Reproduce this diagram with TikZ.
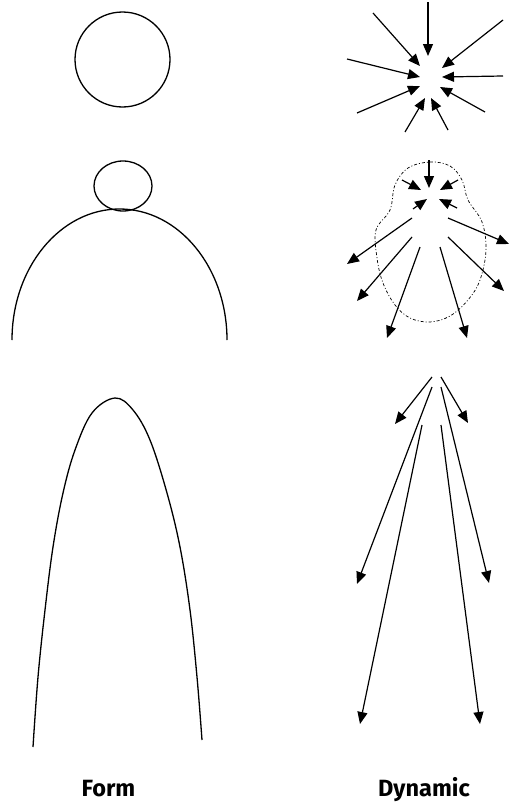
\documentclass[tikz,border=0pt]{standalone}
\usepackage{fontspec}
\setmainfont{Fira Sans}
\usetikzlibrary{arrows.meta}
\begin{document}
\begin{tikzpicture}[x=1pt,y=-1pt,
  shape line/.style={line width=1.3pt, black},
  force/.style={line width=1.2pt, -{Triangle[length=12pt,width=10pt]}},
  field/.style={line width=0.7pt, dash pattern=on 3pt off 2pt on 1pt off 2pt},
  caption/.style={font=\fontsize{23.5}{26}\selectfont\bfseries, anchor=base}]
\useasboundingbox (0,0) rectangle (510,803);

% ---------- Form column ----------
\draw[shape line] (122.5,59.5) circle[radius=47.5];
\draw[shape line] (123,186) ellipse[x radius=29, y radius=25];
\draw[shape line] (12,340) arc[start angle=180, end angle=360, x radius=107.5, y radius=131];
\draw[shape line] plot[smooth, tension=0.6] coordinates {
  (33,747) (38,677) (45,610) (53,547) (63,493) (75,450) (92,413) (115,398)
  (133,410) (150,440) (167,493) (180,547) (190,610) (197,677) (202,740)};

% ---------- Dynamic column: top (converging) ----------
\draw[force] (428,2) -- (428,56);
\draw[force] (373,13) -- (420,66);
\draw[force] (503,20) -- (442,68);
\draw[force] (347,59) -- (420,77);
\draw[force] (503,76) -- (442,77);
\draw[force] (357,113) -- (420,86);
\draw[force] (485,112) -- (440,87);
\draw[force] (405,132) -- (425,98);
\draw[force] (448,130) -- (431,98);

% ---------- Dynamic column: middle ----------
\draw[field] plot[smooth cycle, tension=0.6] coordinates {
  (430,162) (450,166) (462,180) (468,200) (482,222) (486,250) (480,280) (468,300)
  (450,316) (430,322) (410,318) (395,305) (383,283) (377,258) (376,230) (390,210)
  (395,185) (408,168)};
\draw[force] (429,160) -- (429,188);
\draw[force] (402,180) -- (421,190);
\draw[force] (458,180) -- (440,190);
\draw[force] (413,209) -- (427,199);
\draw[force] (457,208) -- (439,199);
\draw[force] (412,218) -- (347,264);
\draw[force] (412,237) -- (357,301);
\draw[force] (420,247) -- (387,338);
\draw[force] (440,247) -- (467,338);
\draw[force] (448,237) -- (504,291);
\draw[force] (448,218) -- (509,244);

% ---------- Dynamic column: bottom (diverging) ----------
\draw[force] (432,377) -- (395,424);
\draw[force] (441,377) -- (468,423);
\draw[force] (432,387) -- (357,584);
\draw[force] (441,387) -- (489,583);
\draw[force] (422,425) -- (360,724);
\draw[force] (441,425) -- (480,724);

% ---------- captions ----------
\node[caption] (form) at (108.5,796) {Form};
\node[caption] (dynamic) at (424,796) {Dynamic};
\end{tikzpicture}
\end{document}
